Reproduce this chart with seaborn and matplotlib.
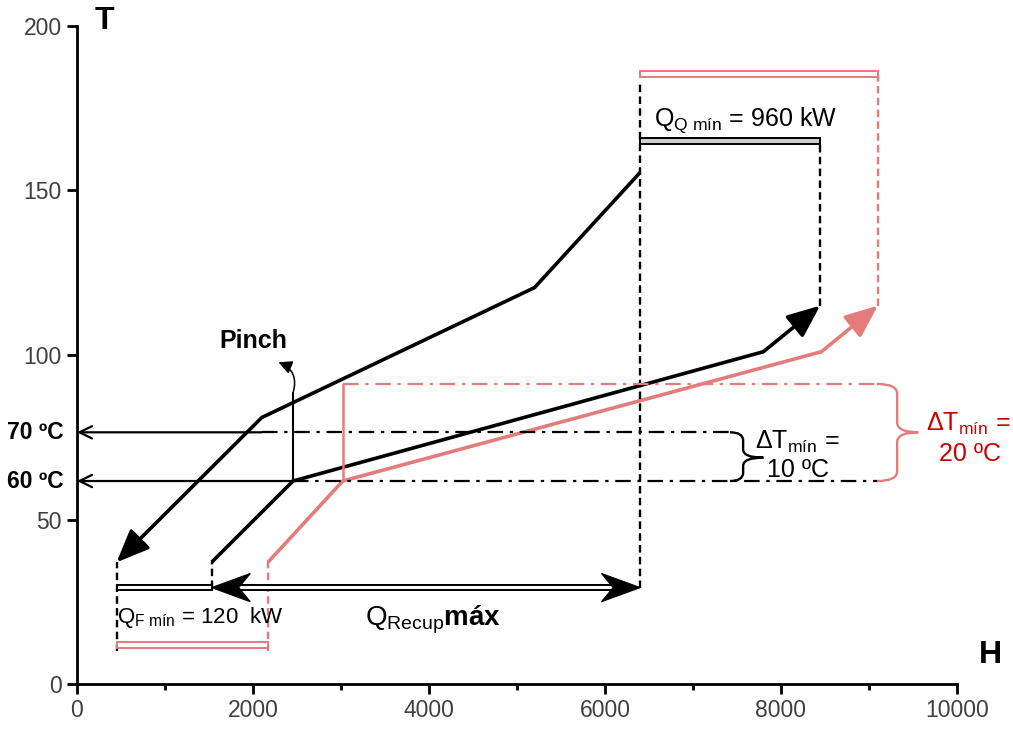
import matplotlib
matplotlib.use("Agg")
import matplotlib.pyplot as plt
import seaborn as sns
import numpy as np
import pandas as pd
from matplotlib.patches import Rectangle, PathPatch, Polygon
from matplotlib.path import Path

# ---------------- data ----------------
hot_H = [6400, 5200, 2100, 450]
hot_T = [155.5, 120.5, 81.0, 37.0]
cold_H = [1530, 2455, 7800, 8445]
cold_T = [37.0, 61.7, 101.0, 115.0]
cold20_H = [2170, 3020, 8460, 9100]
cold20_T = [37.0, 61.7, 101.0, 115.0]

x_ticks = [0, 2000, 4000, 6000, 8000, 10000]
y_ticks = [0, 50, 100, 150, 200]

T_70 = 76.5      # level of the "70 ºC" line (schematic)
T_60 = 61.7      # level of the "60 ºC" line (pinch)
T_90 = 91.2      # upper level for ΔTmin = 20 ºC
QQ_level = 165.0
QQ20_level = 185.3
QF_level = 29.3
QF20_level = 11.8

BLACK = "#000000"
RED = "#e47c7c"
RED_TXT = "#cc0000"

sns.set_theme(style="ticks")
plt.rcParams["font.family"] = ["Liberation Sans", "DejaVu Sans"]
plt.rcParams["text.color"] = "black"
plt.rcParams["mathtext.fontset"] = "custom"
plt.rcParams["mathtext.rm"] = "Liberation Sans"
plt.rcParams["mathtext.it"] = "Liberation Sans:italic"
plt.rcParams["mathtext.bf"] = "Liberation Sans:bold"

fig = plt.figure(figsize=(10.13, 7.30), dpi=100)
ax = fig.add_axes([0.076, 0.063, 0.8687, 0.9014])

# ---------------- composite curves ----------------
def curve(H, T, color):
    df = pd.DataFrame({"H": H[:-1], "T": T[:-1]})
    sns.lineplot(data=df, x="H", y="T", sort=False, estimator=None, color=color,
                 lw=2.6, ax=ax, solid_joinstyle="miter", solid_capstyle="butt")
    ax.annotate("", xy=(H[-1], T[-1]), xytext=(H[-2], T[-2]),
                arrowprops=dict(arrowstyle="-|>,head_length=1.0,head_width=0.42",
                                mutation_scale=20, lw=2.6, color=color,
                                shrinkA=0, shrinkB=0))

curve(hot_H, hot_T, BLACK)
curve(cold_H, cold_T, BLACK)
curve(cold20_H, cold20_T, RED)

# ---------------- dashed verticals ----------------
dash = (0, (3.2, 1.8))
def vdash(x, y0, y1, color):
    ax.plot([x, x], [y0, y1], color=color, lw=1.7, linestyle=dash, clip_on=False)

vdash(hot_H[0], QF_level, 182.5, BLACK)
vdash(cold_H[-1], cold_T[-1], QQ_level, BLACK)
vdash(cold20_H[-1], cold20_T[-1], QQ20_level, RED)
vdash(hot_H[-1], 10.0, hot_T[-1], BLACK)
vdash(cold_H[0], QF_level, cold_T[0], BLACK)
vdash(cold20_H[0], 10.0, cold20_T[0], RED)

# ---------------- double bars ----------------
def bar(x0, x1, y, h, edge, face, lw=1.4):
    ax.add_patch(Rectangle((x0, y - h / 2), x1 - x0, h, facecolor=face,
                           edgecolor=edge, lw=lw, clip_on=False, zorder=3))

bar(hot_H[0], cold_H[-1], QQ_level, 2.0, BLACK, "#cfcfcf")
bar(hot_H[0], cold20_H[-1], QQ20_level, 1.8, RED, "white")
bar(hot_H[-1], cold_H[0], QF_level, 1.6, BLACK, "white")
bar(hot_H[-1], cold20_H[0], QF20_level, 1.8, RED, "white")

# ---------------- Q recup arrow ----------------
bar(cold_H[0] + 200, hot_H[0] - 200, QF_level, 1.3, BLACK, "white", lw=1.4)

def stealth_head(tip, direction, y, length=440, half=4.3, notch=0.7):
    d = direction
    pts = [(tip, y), (tip + d * length, y + half), (tip + d * length * notch, y),
           (tip + d * length, y - half)]
    ax.add_patch(Polygon(pts, closed=True, facecolor=BLACK, edgecolor=BLACK,
                         lw=0.8, zorder=6, joinstyle="miter"))

stealth_head(cold_H[0], +1, QF_level)
stealth_head(hot_H[0], -1, QF_level)

# ---------------- 70 / 60 ºC lines ----------------
dashdot = (0, (7, 3, 1.5, 3))
ax.annotate("", xy=(0, T_70), xytext=(hot_H[2], T_70),
            arrowprops=dict(arrowstyle="->,head_length=0.45,head_width=0.22",
                            mutation_scale=20, lw=1.6, color=BLACK,
                            shrinkA=0, shrinkB=0))
ax.annotate("", xy=(0, T_60), xytext=(cold_H[1], T_60),
            arrowprops=dict(arrowstyle="->,head_length=0.45,head_width=0.22",
                            mutation_scale=20, lw=1.6, color=BLACK,
                            shrinkA=0, shrinkB=0))
ax.plot([hot_H[2], 7420], [T_70, T_70], color=BLACK, lw=1.6, linestyle=dashdot)
ax.plot([cold_H[1], 9090], [T_60, T_60], color=BLACK, lw=1.6, linestyle=dashdot)

# red ΔTmin = 20 box
ax.plot([cold20_H[1], cold20_H[1]], [T_60, T_90], color=RED, lw=1.8)
ax.plot([cold20_H[1], 9090], [T_90, T_90], color=RED, lw=1.6, linestyle=dashdot)

# ---------------- braces ----------------
def brace(x0, xv, xt, ytop, ybot, ymid, r, color, lw):
    verts = [(x0, ytop), (xv, ytop), (xv, ytop - r),
             (xv, ymid + r), (xv, ymid), (xt, ymid),
             (xv, ymid), (xv, ymid - r),
             (xv, ybot + r), (xv, ybot), (x0, ybot)]
    codes = [Path.MOVETO, Path.CURVE3, Path.CURVE3,
             Path.LINETO, Path.CURVE3, Path.CURVE3,
             Path.CURVE3, Path.CURVE3,
             Path.LINETO, Path.CURVE3, Path.CURVE3]
    ax.add_patch(PathPatch(Path(verts, codes), facecolor="none", edgecolor=color,
                           lw=lw, clip_on=False))

brace(7420, 7570, 7800, T_70, T_60, 68.8, 2.5, BLACK, 1.7)
brace(9090, 9320, 9560, T_90, T_60, T_70, 3.0, RED, 1.7)

# ---------------- pinch marker ----------------
ax.plot([cold_H[1], cold_H[1]], [T_60, 88.5], color=BLACK, lw=1.5)
ax.annotate("", xy=(2290, 97.8), xytext=(cold_H[1], 88.5),
            arrowprops=dict(arrowstyle="-|>,head_length=0.5,head_width=0.25",
                            mutation_scale=16, lw=1.1, color=BLACK,
                            connectionstyle="arc3,rad=0.45", shrinkA=0, shrinkB=0))
ax.text(2000, 104.3, "Pinch", fontsize=18, fontweight="bold", ha="center", va="center")

# ---------------- texts ----------------
ax.text(6560, 171.5, r"Q$_{\mathrm{Q\ mín}}$ = 960 kW", fontsize=18, ha="left", va="center")
ax.text(460, 20.3, r"Q$_{\mathrm{F\ mín}}$ = 120  kW", fontsize=16, ha="left", va="center")
ax.text(3270, 19.6, r"Q$_{\mathrm{Recup}}$$\mathbf{máx}$", fontsize=20, ha="left", va="center")
ax.text(8190, 73.6, r"$\Delta$T$_{\mathrm{mín}}$ =", fontsize=18, ha="center", va="center")
ax.text(8190, 65.0, "10 ºC", fontsize=18, ha="center", va="center")
ax.text(10130, 79.0, r"$\Delta$T$_{\mathrm{mín}}$ =", fontsize=18, ha="center", va="center",
        color=RED_TXT, clip_on=False)
ax.text(10150, 70.0, "20 ºC", fontsize=18, ha="center", va="center", color=RED_TXT, clip_on=False)
ax.text(-470, T_70, "70 ºC", fontsize=16.5, fontweight="bold", ha="center", va="center", clip_on=False)
ax.text(-470, T_60, "60 ºC", fontsize=16.5, fontweight="bold", ha="center", va="center", clip_on=False)
ax.text(310, 201.5, "T", fontsize=23, fontweight="bold", ha="center", va="center", clip_on=False)
ax.text(10380, 8.8, "H", fontsize=23, fontweight="bold", ha="center", va="center", clip_on=False)

# ---------------- axes ----------------
ax.set_xlim(0, 10000)
ax.set_ylim(0, 200)
ax.set_xticks(x_ticks)
ax.set_xticks([1000, 3000, 5000, 7000, 9000], minor=True)
ax.set_yticks(y_ticks)
ax.set_xticklabels([str(v) for v in x_ticks])
ax.set_yticklabels([str(v) for v in y_ticks])
ax.set_xlabel("")
ax.set_ylabel("")
sns.despine(ax=ax)
for s in ["left", "bottom"]:
    ax.spines[s].set_linewidth(2.0)
    ax.spines[s].set_color("black")
ax.tick_params(axis="both", which="major", direction="out", length=7, width=2,
               labelsize=16.5, labelcolor="#404040", color="black", pad=4)
ax.tick_params(axis="x", which="minor", direction="out", length=4, width=2, color="black")
ax.set_facecolor("white")
fig.patch.set_facecolor("white")

fig.savefig("out.png", dpi=100)
